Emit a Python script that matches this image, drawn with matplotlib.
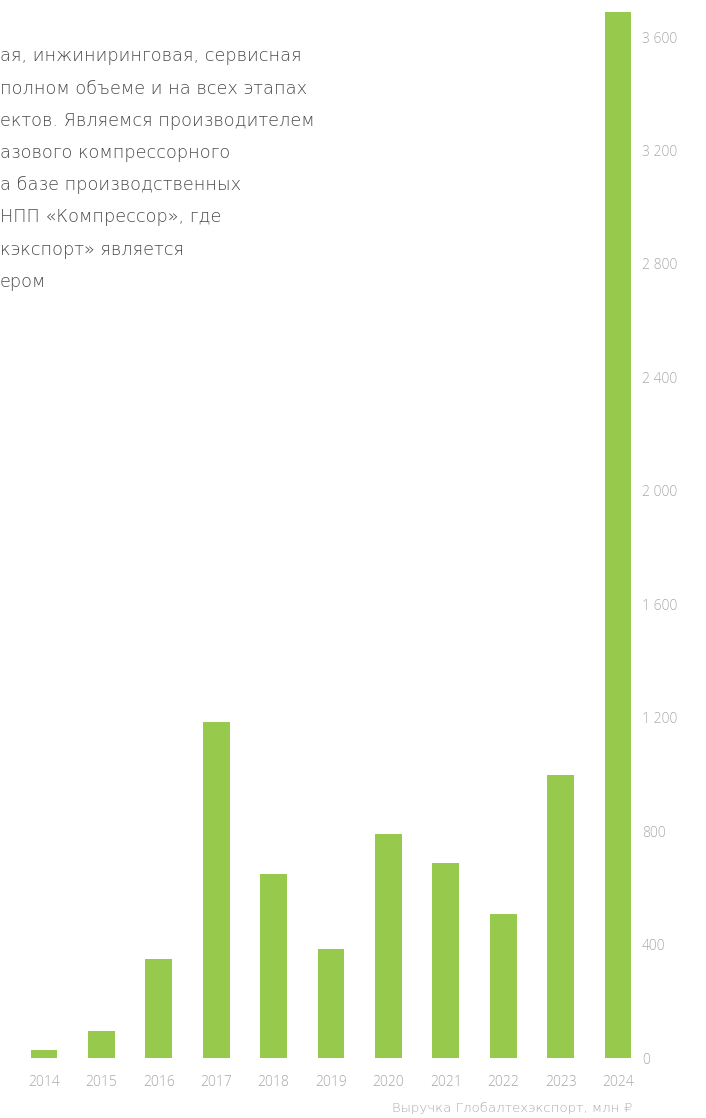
import matplotlib.pyplot as plt

years = ['2014', '2015', '2016', '2017', '2018', '2019', '2020', '2021', '2022', '2023', '2024']
revenue = [28, 95, 349, 1185, 649, 384, 790, 688, 508, 998, 3688]
yticks = [0, 400, 800, 1200, 1600, 2000, 2400, 2800, 3200, 3600]
ytick_labels = ['0', '400', '800', '1 200', '1 600', '2 000', '2 400', '2 800', '3 200', '3 600']

intro_lines = [
    'ая, инжиниринговая, сервисная',
    'полном объеме и на всех этапах',
    'ектов. Являемся производителем',
    'азового компрессорного',
    'а базе производственных',
    'НПП «Компрессор», где',
    'кэкспорт» является',
    'ером',
]
caption = 'Выручка Глобалтехэкспорт, млн ₽'

plt.rcParams['font.family'] = ['Open Sans', 'Noto Sans', 'DejaVu Sans']

W, H = 706, 1118
fig = plt.figure(figsize=(W / 100, H / 100), dpi=100)
ax = fig.add_axes([0, (H - 1058) / H, 635 / W, 1058 / H])

x = list(range(len(years)))
ax.bar(x, revenue, width=0.47, color='#97c94c')

ax.set_xlim(-44 / 57.4, (635 - 44) / 57.4)
ax.set_ylim(0, 1058 / 0.2836)

ax.yaxis.tick_right()
ax.set_yticks(yticks)
ax.set_yticklabels(ytick_labels, fontweight='light')
ax.set_xticks(x)
ax.set_xticklabels(years, fontweight='light')
ax.tick_params(axis='y', length=0, pad=5, labelsize=10, labelcolor='#aaaaaa')
ax.tick_params(axis='x', length=0, pad=12.5, labelsize=10, labelcolor='#a8a8a8')
for s in ax.spines.values():
    s.set_visible(False)

for i, line in enumerate(intro_lines):
    fig.text(0, 1 - (56 + 32.3 * i) / H, line, fontsize=12.8, color='#4a4a4a',
             family=['DejaVu Sans'], fontweight='light', va='center', ha='left')

fig.text(632 / W, 1 - 1108 / H, caption, fontsize=9.6, color='#aaaaaa',
         family=['DejaVu Sans'], fontweight='light', va='center', ha='right')

fig.savefig('out.png', dpi=100)
